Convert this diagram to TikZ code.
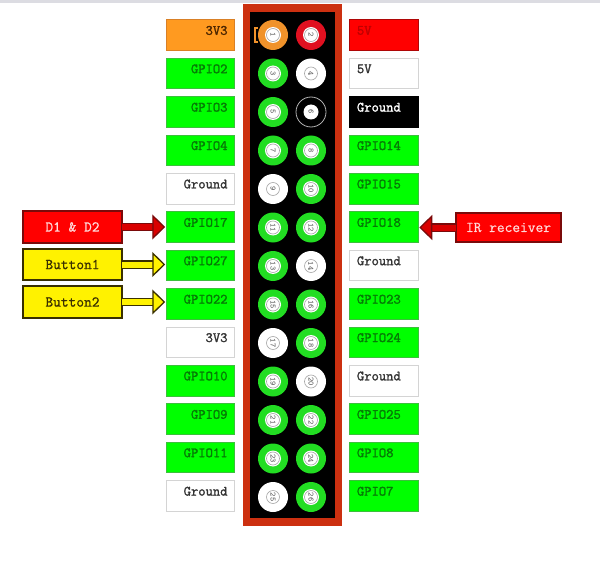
\documentclass[tikz,border=0pt]{standalone}
\usepackage{fontspec}
\setmonofont{Latin Modern Mono}[FakeBold=1.6]
\newfontfamily\devfont{Latin Modern Mono}[FakeBold=0.7]
\newfontfamily\numfont{Latin Modern Mono}
\usetikzlibrary{arrows.meta}
\definecolor{pinG}{HTML}{22DD22}
\definecolor{boxG}{HTML}{00FF00}
\definecolor{edgeG}{HTML}{3CC03C}
\definecolor{txtG}{HTML}{067A06}
\definecolor{edgeW}{HTML}{D4D4D4}
\definecolor{board}{HTML}{CC3010}
\definecolor{orangeP}{HTML}{F0922A}
\definecolor{orangeB}{HTML}{FF9A20}
\definecolor{redP}{HTML}{E01020}
\definecolor{darkR}{HTML}{7A0A0A}
\definecolor{darkY}{HTML}{3A3000}
\tikzset{
  pinbox/.style={rectangle,outer sep=0pt,inner sep=0pt,minimum width=68.5pt,minimum height=30.5pt,line width=1pt},
  gbox/.style={pinbox,fill=boxG,draw=edgeG},
  wbox/.style={pinbox,fill=white,draw=edgeW},
  obox/.style={pinbox,fill=orangeB,draw=orange!70!gray},
  rbox/.style={pinbox,fill=red,draw=darkR!60!red},
  kbox/.style={pinbox,fill=black,draw=black},
  plabel/.style={font=\ttfamily\fontsize{14.2}{16}\selectfont,inner sep=0pt},
  devbox/.style={rectangle,outer sep=0pt,inner sep=0pt,minimum width=99pt,line width=1.4pt,font=\devfont\fontsize{15}{17}\selectfont},
  redbox/.style={devbox,fill=red,draw=darkR,text=red!15!white},
  yelbox/.style={devbox,fill=yellow,draw=darkY,text=darkY},
  redarrow/.style={draw=darkR,line width=1.3pt,double=red!85!black,double distance=6pt,shorten >=1pt,-{Triangle[length=13pt,width=25pt,fill=red!85!black,line width=1.3pt]}},
  yelarrow/.style={draw=darkY,line width=1.3pt,double=yellow,double distance=6pt,shorten >=1pt,-{Triangle[length=13pt,width=25pt,fill=yellow,line width=1.3pt]}},
  pindisc/.style={circle,inner sep=0pt,outer sep=0pt,minimum size=30pt},
  pinhole/.style={circle,fill=white,draw=gray!70,line width=.6pt,inner sep=0pt,minimum size=13pt,text=black!70,font=\numfont\fontsize{8}{9}\selectfont},
}
\begin{document}
\begin{tikzpicture}[x=1pt,y=-1pt]
\useasboundingbox (0,0) rectangle (600,575);
\fill[white] (0,0) rectangle (600,575);
\fill[blue!10!gray!25] (0,0) rectangle (600,3);
% board
\fill[board] (243,4) rectangle (342,526);
\fill[black] (250,12) rectangle (335,518);
% pins: number / colour / y-row
\foreach \n/\col/\r in {1/orangeP/0,3/pinG/1,5/pinG/2,7/pinG/3,9/white/4,11/pinG/5,13/pinG/6,15/pinG/7,17/white/8,19/pinG/9,21/pinG/10,23/pinG/11,25/white/12}{
  \node[pindisc,fill=\col] (p\n) at (273,{35+38.5*\r}) {};
  \fill[white] (p\n) circle (8);
  \node[pinhole,rotate=-90] at (p\n) {\n};
}
\foreach \n/\col/\r in {2/redP/0,4/white/1,8/pinG/3,10/pinG/4,12/pinG/5,14/white/6,16/pinG/7,18/pinG/8,20/white/9,22/pinG/10,24/pinG/11,26/pinG/12}{
  \node[pindisc,fill=\col] (p\n) at (311,{35+38.5*\r}) {};
  \fill[white] (p\n) circle (8);
  \node[pinhole,rotate=-90] at (p\n) {\n};
}
\node[pindisc,fill=black,draw=gray!60!white,line width=.8pt] (p6) at (311,112) {};
\node[pinhole,draw=none,minimum size=15pt,rotate=-90] at (p6) {6};
\draw[orangeP,line width=1.2pt] (258,28) -- (255,28) -- (255,42) -- (258,42);
% left column
\foreach \nm/\sty/\txt/\tc/\r in {
  l0/obox/3V3/black!70!orange/0, l1/gbox/GPIO2/txtG/1, l2/gbox/GPIO3/txtG/2, l3/gbox/GPIO4/txtG/3,
  l4/wbox/Ground/black!80/4, l5/gbox/GPIO17/txtG/5, l6/gbox/GPIO27/txtG/6, l7/gbox/GPIO22/txtG/7,
  l8/wbox/3V3/black!80/8, l9/gbox/GPIO10/txtG/9, l10/gbox/GPIO9/txtG/10, l11/gbox/GPIO11/txtG/11,
  l12/wbox/Ground/black!80/12}{
  \node[\sty] (\nm) at (200.5,{35.2+38.4*\r}) {};
  \node[plabel,text=\tc,anchor=east] at ([shift={(-7,10.5)}]\nm.north east) {\txt};
}
% right column
\foreach \nm/\sty/\txt/\tc/\r in {
  r0/rbox/5V/red!75!black/0, r1/wbox/5V/black!80/1, r2/kbox/Ground/white/2, r3/gbox/GPIO14/txtG/3,
  r4/gbox/GPIO15/txtG/4, r5/gbox/GPIO18/txtG/5, r6/wbox/Ground/black!80/6, r7/gbox/GPIO23/txtG/7,
  r8/gbox/GPIO24/txtG/8, r9/wbox/Ground/black!80/9, r10/gbox/GPIO25/txtG/10, r11/gbox/GPIO8/txtG/11,
  r12/gbox/GPIO7/txtG/12}{
  \node[\sty] (\nm) at (384,{35.2+38.4*\r}) {};
  \node[plabel,text=\tc,anchor=west] at ([shift={(7,10.5)}]\nm.north west) {\txt};
}
% devices
\node[redbox,minimum height=32pt] (d1) at (72.5,227) {D1 \& D2};
\node[yelbox,minimum height=31pt] (b1) at (72.5,264.5) {Button1};
\node[yelbox,minimum height=32pt] (b2) at (72.5,302) {Button2};
\node[redbox,minimum width=105pt,minimum height=29pt] (ir) at (508.5,227.5) {IR receiver};
\draw[redarrow] (d1.east) -- (d1.east -| l5.west);
\draw[yelarrow] (b1.east) -- (b1.east -| l6.west);
\draw[yelarrow] (b2.east) -- (b2.east -| l7.west);
\draw[redarrow] (ir.west) -- (ir.west -| r5.east);
\end{tikzpicture}
\end{document}
